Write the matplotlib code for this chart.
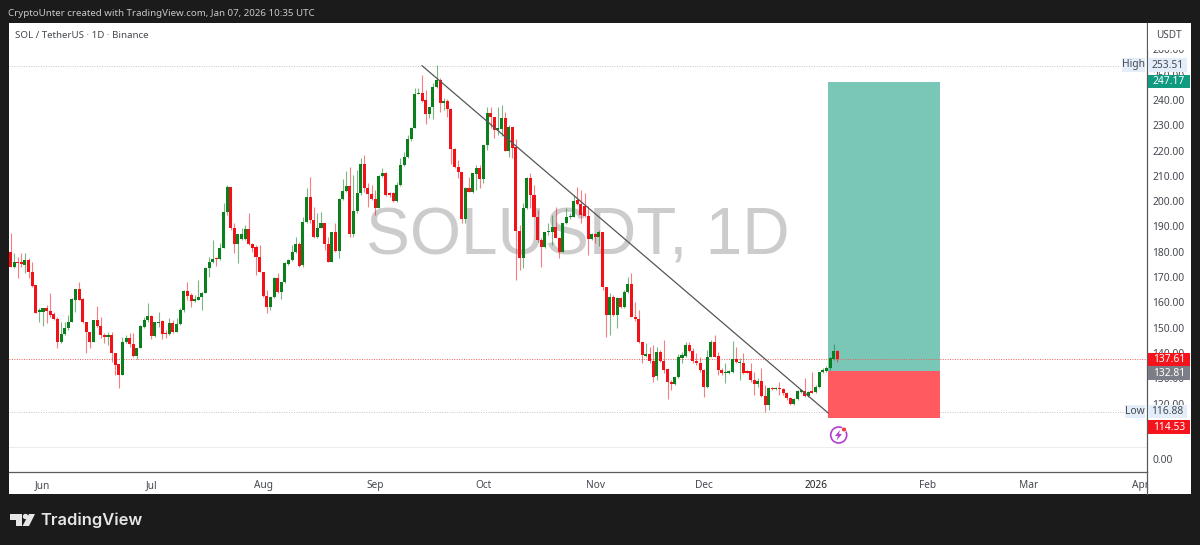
import numpy as np
import pandas as pd
import matplotlib
matplotlib.use('Agg')
import matplotlib.pyplot as plt
import matplotlib.dates as mdates
from matplotlib.patches import Rectangle, Circle, Polygon

plt.rcParams['font.family'] = ['Noto Sans', 'DejaVu Sans']

# daily candles, 23 May 2025 to 7 Jan 2026
first_day = '2025-05-23'
opens = [
    180.0, 174.1, 175.8, 175.8, 174.8, 176.7, 172.1, 166.9, 156.3, 156.3,
    157.6, 156.7, 155.4, 153.3, 144.2, 147.5, 150.0, 152.4, 160.9, 165.3,
    161.2, 152.4, 148.4, 144.5, 153.0, 150.7, 147.1, 146.4, 147.1, 139.9,
    135.6, 131.3, 144.5, 145.8, 143.5, 138.8, 141.8, 150.4, 153.0, 154.6,
    146.7, 151.7, 152.6, 147.8, 147.4, 151.7, 148.4, 151.5, 157.0, 164.5,
    162.9, 160.7, 160.9, 162.0, 163.8, 173.5, 175.8, 177.4, 177.0, 181.4,
    195.8, 205.7, 189.5, 182.9, 185.0, 184.9, 188.9, 183.1, 181.8, 177.8,
    172.1, 162.5, 158.3, 162.0, 169.8, 164.1, 167.9, 175.2, 176.7, 180.0,
    182.9, 174.8, 191.9, 201.5, 192.6, 185.7, 189.5, 191.2, 182.9, 176.1,
    187.9, 180.3, 200.7, 204.2, 206.1, 187.0, 196.1, 203.1, 214.7, 205.1,
    202.7, 200.7, 197.2, 210.0, 211.0, 203.1, 203.4, 200.1, 206.4, 214.3,
    217.3, 224.4, 228.8, 242.4, 242.6, 240.0, 234.5, 237.1, 245.3, 247.9,
    238.7, 239.7, 236.3, 220.6, 213.4, 211.7, 192.8, 205.3, 203.8, 210.7,
    213.0, 208.8, 222.2, 235.0, 233.1, 228.1, 228.5, 232.7, 220.0, 229.4,
    221.3, 188.3, 177.7, 197.2, 209.0, 202.4, 193.9, 184.7, 181.8, 187.7,
    187.7, 189.9, 185.6, 179.8, 191.2, 193.6, 193.9, 200.5, 198.9, 198.1,
    194.2, 185.0, 187.1, 186.0, 187.7, 166.0, 155.0, 162.3, 155.0, 161.6,
    158.1, 164.3, 167.3, 154.4, 153.5, 144.5, 139.0, 139.6, 137.0, 130.9,
    140.6, 137.0, 133.6, 128.4, 127.6, 130.4, 138.0, 139.0, 143.2, 141.0,
    137.0, 135.9, 133.3, 126.5, 138.6, 144.5, 139.0, 133.3, 132.0, 132.3,
    132.6, 137.7, 135.9, 136.2, 132.8, 133.0, 129.4, 127.6, 129.1, 123.0,
    119.5, 126.3, 125.8, 126.1, 125.8, 124.1, 122.4, 119.9, 121.8, 124.8,
    125.1, 123.0, 125.0, 124.7, 126.7, 132.4, 133.0, 134.0, 137.8, 140.9,
]
highs = [
    187.6, 179.4, 178.1, 179.4, 179.6, 177.4, 176.1, 166.9, 157.6, 157.6,
    159.0, 163.6, 156.3, 154.3, 152.4, 152.4, 155.0, 161.6, 165.3, 168.2,
    161.6, 152.4, 148.4, 153.0, 158.6, 154.1, 147.8, 148.4, 148.4, 139.9,
    135.6, 146.4, 147.1, 147.8, 147.8, 141.8, 151.1, 154.3, 159.9, 155.0,
    152.4, 156.3, 153.0, 149.1, 153.7, 153.0, 153.7, 157.6, 164.9, 168.2,
    163.6, 162.9, 168.8, 164.2, 173.9, 178.1, 184.7, 178.1, 183.6, 199.1,
    206.4, 205.7, 191.5, 186.9, 189.5, 190.6, 195.2, 183.6, 182.7, 182.7,
    172.1, 164.9, 162.3, 170.2, 171.5, 168.2, 176.1, 177.0, 182.7, 186.0,
    184.0, 193.9, 205.1, 209.7, 197.8, 195.2, 195.8, 191.2, 186.0, 187.9,
    191.2, 201.1, 208.6, 212.0, 213.6, 210.3, 212.3, 216.9, 218.2, 207.3,
    206.4, 204.4, 210.3, 213.0, 211.7, 203.8, 203.8, 207.7, 216.9, 219.6,
    226.2, 229.4, 244.6, 244.6, 249.9, 243.9, 237.4, 246.6, 253.8, 248.6,
    240.6, 240.3, 236.7, 220.9, 216.3, 211.7, 205.7, 209.7, 211.3, 214.3,
    214.3, 222.2, 237.1, 237.4, 233.4, 237.4, 238.0, 235.4, 230.1, 229.4,
    224.4, 190.6, 199.1, 209.4, 211.0, 206.4, 196.5, 185.3, 187.9, 191.2,
    194.5, 197.8, 186.0, 191.5, 197.2, 195.2, 202.4, 205.7, 204.4, 203.1,
    197.9, 187.6, 187.6, 188.6, 188.0, 166.2, 163.6, 163.0, 162.3, 162.0,
    164.9, 170.2, 171.8, 160.3, 157.0, 144.5, 143.8, 142.5, 143.2, 142.5,
    141.2, 145.2, 134.0, 129.4, 130.7, 139.6, 140.5, 144.5, 144.5, 141.9,
    139.9, 138.6, 133.6, 141.2, 145.2, 147.1, 140.6, 134.0, 135.9, 133.3,
    144.9, 142.5, 137.9, 139.9, 133.3, 135.9, 132.6, 130.0, 133.9, 127.4,
    126.7, 126.7, 126.5, 128.7, 126.1, 124.7, 122.8, 122.1, 125.4, 125.7,
    130.0, 125.1, 132.6, 127.4, 132.6, 134.0, 134.9, 138.6, 143.6, 141.2,
]
lows = [
    174.1, 173.5, 169.5, 174.1, 171.5, 169.5, 166.2, 155.7, 152.4, 150.8,
    151.7, 154.3, 153.0, 141.8, 143.8, 147.1, 149.1, 152.4, 156.3, 160.9,
    151.7, 140.1, 141.8, 144.5, 150.4, 145.8, 143.8, 143.2, 136.6, 131.3,
    126.0, 131.3, 143.8, 142.5, 138.5, 137.5, 141.8, 149.7, 152.4, 145.4,
    146.4, 150.4, 145.4, 145.8, 147.1, 148.0, 148.4, 151.1, 156.3, 160.9,
    158.0, 160.3, 160.9, 157.2, 163.6, 170.2, 175.4, 174.4, 176.7, 181.4,
    194.5, 188.6, 179.6, 175.7, 184.7, 184.7, 182.7, 180.0, 170.8, 171.9,
    162.3, 155.9, 157.0, 161.6, 163.6, 161.2, 167.5, 174.8, 176.5, 179.6,
    174.1, 174.1, 191.2, 191.2, 185.3, 185.3, 189.3, 180.7, 176.1, 176.1,
    180.0, 177.4, 200.5, 203.8, 186.0, 186.0, 195.2, 202.4, 203.8, 197.8,
    200.5, 194.5, 197.2, 209.7, 202.0, 201.8, 199.8, 199.8, 206.0, 213.9,
    216.9, 223.9, 228.8, 242.2, 239.3, 230.5, 232.7, 232.3, 244.6, 235.4,
    236.0, 233.4, 214.6, 213.0, 209.0, 191.5, 191.2, 203.8, 203.4, 204.4,
    205.1, 207.0, 220.2, 228.8, 224.8, 226.2, 225.8, 220.0, 217.6, 216.9,
    168.8, 172.8, 173.5, 196.8, 197.2, 193.9, 184.0, 174.1, 181.4, 186.6,
    182.7, 185.3, 177.4, 179.8, 191.0, 192.8, 193.6, 198.5, 191.2, 193.9,
    178.8, 184.7, 183.4, 182.1, 164.9, 146.5, 147.1, 154.6, 150.0, 157.7,
    157.7, 163.6, 154.4, 152.8, 144.1, 136.1, 138.6, 136.1, 128.7, 129.4,
    136.6, 132.0, 121.7, 125.4, 127.4, 130.0, 136.0, 138.6, 140.6, 136.0,
    135.3, 132.6, 122.8, 126.1, 138.3, 138.3, 131.3, 131.3, 128.0, 131.7,
    132.3, 135.9, 129.4, 131.7, 132.0, 128.7, 123.4, 126.7, 122.5, 116.8,
    117.5, 125.4, 125.4, 123.4, 123.4, 121.4, 119.5, 119.5, 121.4, 124.3,
    122.8, 122.8, 124.1, 124.3, 126.1, 132.0, 132.7, 133.3, 137.3, 136.6,
]
closes = [
    174.1, 176.1, 175.4, 175.2, 176.7, 172.1, 166.5, 155.9, 157.0, 157.6,
    156.7, 155.0, 153.3, 144.2, 147.5, 150.0, 152.4, 161.2, 165.3, 160.9,
    152.4, 148.4, 144.5, 153.0, 150.7, 147.1, 146.2, 147.1, 139.9, 135.2,
    131.3, 144.5, 145.8, 143.5, 138.8, 141.8, 150.7, 153.0, 154.6, 146.7,
    152.1, 152.1, 147.5, 147.4, 151.7, 148.4, 151.5, 157.2, 164.5, 162.6,
    160.7, 161.2, 162.3, 163.8, 173.5, 176.0, 177.1, 177.0, 181.4, 195.8,
    205.7, 189.5, 182.9, 186.9, 186.9, 188.9, 183.1, 181.4, 177.8, 172.1,
    162.5, 158.3, 162.0, 169.8, 164.1, 167.9, 175.4, 176.7, 180.0, 182.9,
    174.4, 191.9, 201.5, 192.6, 185.7, 189.5, 191.2, 182.9, 176.1, 187.9,
    180.3, 200.7, 204.2, 206.1, 187.0, 196.1, 203.1, 214.7, 205.1, 202.7,
    200.7, 197.2, 210.0, 211.0, 202.4, 202.4, 200.1, 206.4, 214.3, 217.3,
    224.4, 229.0, 242.4, 242.9, 239.7, 234.5, 237.1, 245.3, 247.9, 238.9,
    239.7, 236.3, 220.6, 213.4, 211.7, 192.8, 205.3, 203.8, 211.0, 213.0,
    208.8, 222.2, 235.0, 233.1, 228.1, 228.8, 232.7, 220.0, 229.4, 220.9,
    188.2, 177.7, 197.2, 209.0, 202.4, 193.9, 184.7, 181.8, 187.7, 187.9,
    189.9, 185.6, 179.8, 191.2, 193.6, 194.1, 200.2, 198.9, 194.5, 194.1,
    185.0, 187.1, 186.0, 187.7, 166.0, 155.0, 162.3, 155.0, 161.6, 158.1,
    164.3, 167.3, 154.4, 153.3, 144.5, 139.2, 139.6, 137.0, 130.7, 140.6,
    137.0, 133.3, 128.4, 127.6, 130.4, 138.3, 139.2, 143.2, 141.0, 137.0,
    135.9, 133.3, 126.5, 138.6, 144.5, 138.6, 133.3, 132.0, 132.5, 133.0,
    137.7, 136.3, 136.3, 132.3, 132.3, 129.4, 127.6, 129.1, 123.0, 119.5,
    126.3, 125.8, 126.1, 125.8, 124.1, 122.4, 119.9, 121.8, 125.1, 125.1,
    123.0, 124.7, 124.3, 126.7, 132.4, 133.3, 134.2, 137.9, 140.9, 137.61,
]

price_ticks = [260, 250, 240, 230, 220, 210, 200, 190, 180, 170, 160, 150, 140, 130, 120]
zero_tick = 98.1  # the odd 0.00 label sits here on the price scale
month_ticks = ['2025-06-01', '2025-07-01', '2025-08-01', '2025-09-01', '2025-10-01', '2025-11-01',
               '2025-12-01', '2026-01-01', '2026-02-01', '2026-03-01', '2026-04-01']
month_labels = ['Jun', 'Jul', 'Aug', 'Sep', 'Oct', 'Nov', 'Dec', '2026', 'Feb', 'Mar', 'Apr']

high_price, low_price, last_price = 253.51, 116.88, 137.61
target, entry, stop = 247.17, 132.81, 114.53
box_from, box_to = '2026-01-04 12:00', '2026-02-04 12:00'
trend_x = ['2025-09-14', '2026-01-04 12:00']
trend_y = [253.51, 116.3]

GREEN = '#0b7f1c'
RED = '#f01218'
DARK = '#1b1b1b'
TEXT = '#454850'


def dn(d):
    return mdates.date2num(pd.Timestamp(d))


fig = plt.figure(figsize=(12, 5.45), dpi=100, facecolor=DARK)
ax = fig.add_axes([9/1200, 1-472/545, 1138/1200, 449/545])

days = np.array([dn(d) for d in pd.date_range(first_day, periods=len(closes))])
o, h, l, c = map(np.array, (opens, highs, lows, closes))
colors = [GREEN if b >= a else RED for a, b in zip(o, c)]

ax.text(0.5, 0.522, 'SOLUSDT, 1D', transform=ax.transAxes, ha='center', va='center',
        fontsize=47.3, color='#cccccc', family='Liberation Sans', zorder=1)

ax.add_patch(Rectangle((dn(box_from), entry), dn(box_to)-dn(box_from), target-entry,
                       fc='#7ac7b8', ec='none', zorder=1.5))
ax.add_patch(Rectangle((dn(box_from), stop), dn(box_to)-dn(box_from), entry-stop,
                       fc='#fe5a60', ec='none', zorder=1.5))

ax.axhline(high_price, xmax=0.976, color='#c4c4c4', lw=0.7, ls=(0, (1, 1.5)), zorder=1.4)
ax.axhline(low_price, xmax=0.98, color='#c4c4c4', lw=0.7, ls=(0, (1, 1.5)), zorder=1.4)
ax.axhline(last_price, color='#f25c5c', lw=0.7, ls=(0, (1, 1.5)), zorder=1.6)
ax.axhline(102.8, color='#ececec', lw=0.7, zorder=1.4)

ax.vlines(days, l, h, colors=colors, lw=0.8, alpha=0.55, zorder=2)
ax.bar(days, np.maximum(np.abs(c-o), 0.5), bottom=np.minimum(o, c), width=0.84, color=colors, zorder=3)
ax.plot([dn(d) for d in trend_x], trend_y, color='#555555', lw=0.9, zorder=4)

ax.set_xlim(dn('2025-06-01')-9.42, dn('2025-06-01')+305.8)
ax.set_ylim(93.0, 270.4)
ax.set_xticks([dn(d) for d in month_ticks])
ax.set_xticklabels(month_labels)
ax.yaxis.tick_right()
ax.set_yticks(price_ticks + [zero_tick])
ax.set_yticklabels([f'{p:.2f}' for p in price_ticks] + ['0.00'])
ax.tick_params(axis='x', length=0, pad=6, labelsize=7.3, labelcolor=TEXT)
ax.tick_params(axis='y', length=0, pad=4, labelsize=7.4, labelcolor=TEXT)
for lab in ax.get_xticklabels():
    if lab.get_text() == '2026':
        lab.set_fontweight('bold')
        lab.set_color('#222222')
for side in ('top', 'left'):
    ax.spines[side].set_visible(False)
for side in ('right', 'bottom'):
    ax.spines[side].set_color('#5a5a5a')
    ax.spines[side].set_linewidth(0.9)

# page furniture, in image pixels
ov = fig.add_axes([0, 0, 1, 1], facecolor='none')
ov.set_xlim(0, 1200)
ov.set_ylim(545, 0)
ov.axis('off')
bg = fig.add_axes([0, 0, 1, 1], facecolor='none', zorder=-1)
bg.set_xlim(0, 1200)
bg.set_ylim(545, 0)
bg.axis('off')
bg.add_patch(Rectangle((9, 23), 1182, 471, fc='white', ec='none'))

# header of the price scale and the clipped corner of the time scale
ov.add_patch(Rectangle((1148, 23), 43, 27, fc='white', ec='none'))
ov.add_patch(Rectangle((1148, 473), 43, 21, fc='white', ec='none'))
ov.plot([1147, 1147], [472, 494], color='#5a5a5a', lw=0.9)
ov.text(1169, 36, 'USDT', ha='center', va='center', fontsize=7.2, color=TEXT)


def tag(y, label, fc, fg, x0=1148, x1=1190, h=13.5):
    ov.add_patch(Rectangle((x0, y-h/2), x1-x0, h, fc=fc, ec='none'))
    ov.text((x0+x1)/2, y, label, ha='center', va='center', fontsize=7.4, color=fg)


tag(65, f'{high_price:.2f}', '#e4eefa', TEXT, x1=1187)
tag(81.5, f'{target:.2f}', '#109a80', 'white')
tag(359.5, f'{last_price:.2f}', '#f5141c', 'white')
tag(373, f'{entry:.2f}', '#7b7e86', 'white')
tag(411.5, f'{low_price:.2f}', '#e4eefa', TEXT, x1=1187)
tag(427, f'{stop:.2f}', '#f5141c', 'white')
tag(65, 'High', '#e4eefa', TEXT, x0=1122, x1=1145)
tag(411.5, 'Low', '#e4eefa', TEXT, x0=1125, x1=1145)

ov.text(8, 13, 'CryptoUnter created with TradingView.com, Jan 07, 2026 10:35 UTC',
        va='center', fontsize=7, color='#c8c8c8')
ov.text(15, 35.5, 'SOL / TetherUS · 1D · Binance', va='center', fontsize=7, color=TEXT)

# flash icon under the position box
ov.add_patch(Circle((838.7, 435), 8, fc='white', ec='#b23fd0', lw=1.2))
ov.add_patch(Polygon([(840, 430), (835, 436), (838, 436), (836.5, 440.5), (842, 434), (839, 434)],
                     fc='#b23fd0', ec='none'))
ov.add_patch(Circle((844, 429.5), 2.4, fc='#f23645', ec='white', lw=0.5))

# TradingView mark
ov.add_patch(Polygon([(10, 514), (22, 514), (22, 526), (16, 526), (16, 520), (10, 520)], fc='#e6e6e6', ec='none'))
ov.add_patch(Circle((25.5, 516.5), 2.7, fc='#e6e6e6', ec='none'))
ov.add_patch(Polygon([(29, 514), (35, 514), (29, 526), (22.5, 526)], fc='#e6e6e6', ec='none'))
ov.text(40.5, 520, 'TradingView', va='center', fontsize=11.9, color='#e6e6e6', family='Inter', fontweight='semibold')

fig.savefig('out.png', dpi=100, facecolor=DARK)
